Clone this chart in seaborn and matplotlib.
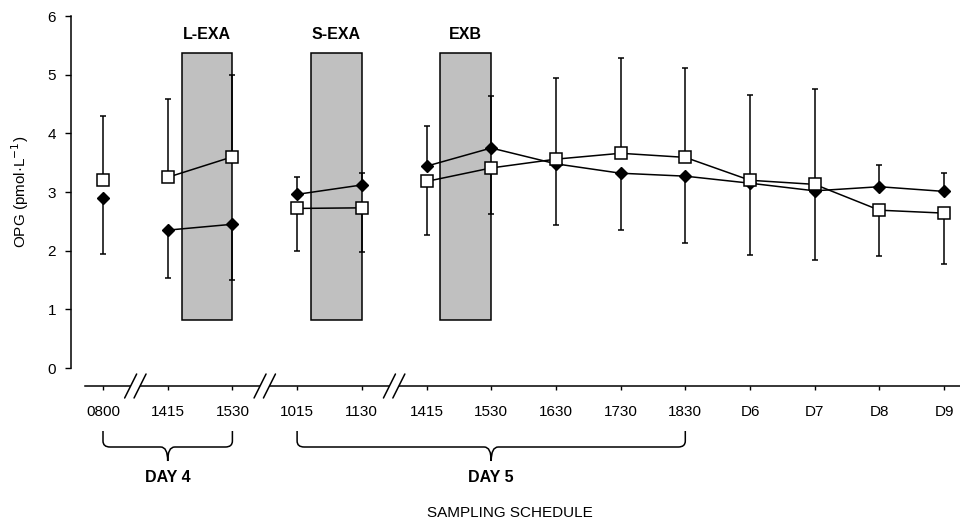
import numpy as np
import pandas as pd
import matplotlib
matplotlib.use("Agg")
import matplotlib.pyplot as plt
import matplotlib.transforms as mtransforms
from matplotlib.path import Path
from matplotlib.patches import PathPatch, Rectangle
import seaborn as sns

# ---------------- data ----------------
tick_labels = ["0800", "1415", "1530", "1015", "1130", "1415", "1530",
               "1630", "1730", "1830", "D6", "D7", "D8", "D9"]
positions = list(range(len(tick_labels)))
segment_ids = [0, 1, 1, 2, 2, 3, 3, 3, 3, 3, 3, 3, 3, 3]

filled_diamond = [2.89, 2.35, 2.45, 2.96, 3.12, 3.44, 3.75, 3.48, 3.32, 3.27, 3.15, 3.02, 3.09, 3.01]
open_square = [3.21, 3.25, 3.60, 2.72, 2.73, 3.18, 3.41, 3.56, 3.66, 3.59, 3.20, 3.13, 2.69, 2.64]

errbar_top = [4.29, 4.59, 4.99, 3.26, 3.33, 4.13, 4.64, 4.94, 5.29, 5.11, 4.65, 4.76, 3.46, 3.32]
errbar_bottom = [1.94, 1.53, 1.50, 2.00, 1.97, 2.27, 2.63, 2.43, 2.36, 2.13, 1.93, 1.84, 1.91, 1.78]

box_labels = ["L-EXA", "S-EXA", "EXB"]
box_start = [1.22, 3.21, 5.21]
box_end = [2.0, 4.0, 6.0]
box_low, box_high = 0.82, 5.37

break_positions = [0.5, 2.5, 4.5]
day_labels = ["DAY 4", "DAY 5"]
day_start = [0, 3]
day_end = [2, 9]

# ---------------- style ----------------
sns.set_style("ticks")
plt.rcParams["font.family"] = ["Liberation Sans", "DejaVu Sans"]
plt.rcParams["text.color"] = "black"
plt.rcParams["axes.labelcolor"] = "black"
plt.rcParams["xtick.color"] = "black"
plt.rcParams["ytick.color"] = "black"
plt.rcParams["axes.edgecolor"] = "black"

W, H = 960, 526
fig = plt.figure(figsize=(W / 100, H / 100), dpi=100)
ax_left, ax_right, ax_top, ax_bottom = 71, 960, 16, 386
ax = fig.add_axes([ax_left / W, 1 - ax_bottom / H,
                   (ax_right - ax_left) / W, (ax_bottom - ax_top) / H])

x_px0, x_step = 103.0, 64.7
xlim = ((ax_left - x_px0) / x_step, (ax_right - x_px0) / x_step)
y_unit = (368 - 16) / 6.0
ylim = (-(ax_bottom - 368) / y_unit, 6.0)
ax.set_xlim(*xlim)
ax.set_ylim(*ylim)

# grey exercise boxes
for lab, s, e in zip(box_labels, box_start, box_end):
    ax.add_patch(Rectangle((s, box_low), e - s, box_high - box_low,
                           facecolor="#c0c0c0", edgecolor="black", lw=1.1, zorder=1))
    ax.text((s + e) / 2, 5.68, lab, ha="center", va="center",
            fontsize=11.5, fontweight="bold", color="black")

# error bars: upward from the higher mean, downward from the lower mean
d = np.array(filled_diamond)
s_ = np.array(open_square)
upper = np.maximum(d, s_)
lower = np.minimum(d, s_)
zeros = np.zeros_like(upper)
ax.errorbar(positions, upper, yerr=[zeros, np.array(errbar_top) - upper],
            fmt="none", ecolor="black", elinewidth=1.1, capsize=2.2, capthick=1.1, zorder=2)
ax.errorbar(positions, lower, yerr=[lower - np.array(errbar_bottom), zeros],
            fmt="none", ecolor="black", elinewidth=1.1, capsize=2.2, capthick=1.1, zorder=2)

# series lines
df_d = pd.DataFrame({"pos": positions, "value": filled_diamond, "segment": segment_ids})
df_s = pd.DataFrame({"pos": positions, "value": open_square, "segment": segment_ids})
sns.lineplot(data=df_d, x="pos", y="value", units="segment", estimator=None, sort=False,
             color="black", linewidth=1.1, marker="D", markersize=6.2,
             markerfacecolor="black", markeredgecolor="black", markeredgewidth=1.0,
             legend=False, ax=ax, zorder=4)
sns.lineplot(data=df_s, x="pos", y="value", units="segment", estimator=None, sort=False,
             color="black", linewidth=1.1, marker="s", markersize=8.6,
             markerfacecolor="white", markeredgecolor="black", markeredgewidth=1.1,
             legend=False, ax=ax, zorder=5)

# axes styling
sns.despine(ax=ax)
ax.spines["left"].set_bounds(0, 6)
ax.spines["left"].set_linewidth(1.1)
ax.spines["bottom"].set_bounds((85 - x_px0) / x_step, xlim[1])
ax.spines["bottom"].set_linewidth(1.1)
ax.set_yticks(range(0, 7))
ax.set_yticklabels([str(v) for v in range(0, 7)])
ax.set_xticks(positions)
ax.set_xticklabels(tick_labels)
ax.tick_params(axis="y", direction="out", length=4.3, width=1.0, pad=6.5, labelsize=11, colors="black")
ax.tick_params(axis="x", direction="out", length=3, width=1.0, pad=10.5, labelsize=11, colors="black")
ax.set_xlabel("")
ax.set_ylabel("")

# axis breaks "//"
y_ax = ylim[0]
half_gap = 4.7 / x_step
dx = 6.0 / x_step
dy = 12.0 / y_unit
for b in break_positions:
    ax.plot([b - half_gap, b + half_gap], [y_ax, y_ax], color="white", lw=3,
            solid_capstyle="butt", clip_on=False, zorder=6)
    for c in (b - half_gap, b + half_gap):
        ax.plot([c - dx, c + dx], [y_ax - dy, y_ax + dy], color="black", lw=1.1,
                clip_on=False, zorder=7)

# braces below the tick labels
trans = mtransforms.blended_transform_factory(ax.transData, fig.transFigure)
def fy(px):
    return 1 - px / H

r = 7.0 / x_step
for lab, a, b in zip(day_labels, day_start, day_end):
    m = (a + b) / 2
    y0, y1, y2, y3 = fy(431), fy(441), fy(447), fy(461)
    verts = [(a, y0), (a, y1), (a, y2), (a + r, y2),
             (m - r, y2), (m, y2), (m, y3),
             (m, y2), (m + r, y2),
             (b - r, y2), (b, y2), (b, y1), (b, y0)]
    codes = [Path.MOVETO, Path.LINETO, Path.CURVE3, Path.CURVE3,
             Path.LINETO, Path.CURVE3, Path.CURVE3,
             Path.CURVE3, Path.CURVE3,
             Path.LINETO, Path.CURVE3, Path.CURVE3, Path.LINETO]
    ax.add_patch(PathPatch(Path(verts, codes), transform=trans, fill=False,
                           edgecolor="black", lw=1.1, clip_on=False))
    ax.text(m, fy(478), lab, transform=trans, ha="center", va="center",
            fontsize=11.5, fontweight="bold", color="black")

fig.text(510 / W, fy(513), "SAMPLING SCHEDULE", ha="center", va="center",
         fontsize=11, color="black")
fig.text(20 / W, fy(192), "OPG (pmol·L$^{-1}$)", ha="center", va="center",
         rotation=90, fontsize=11, color="black")

fig.savefig("out.png", dpi=100)
